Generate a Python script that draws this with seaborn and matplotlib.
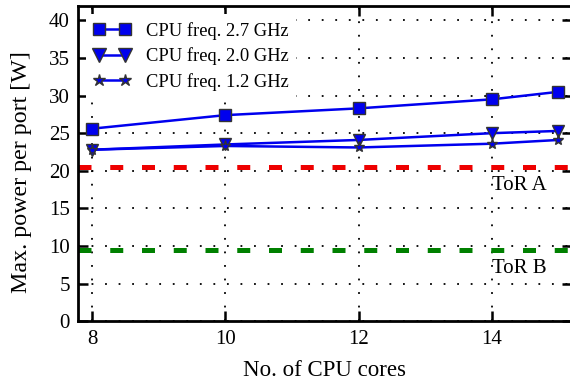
import matplotlib
matplotlib.use("Agg")
import matplotlib.pyplot as plt
import seaborn as sns
import pandas as pd

cores = [8, 10, 12, 14, 15]
p27 = [25.6, 27.4, 28.3, 29.5, 30.5]
p20 = [22.8, 23.5, 24.1, 25.0, 25.3]
p12 = [22.8, 23.3, 23.1, 23.6, 24.1]
series_names = ["CPU freq. 2.7 GHz", "CPU freq. 2.0 GHz", "CPU freq. 1.2 GHz"]
tor_a = 20.5
tor_b = 9.5
x_ticks = [8, 10, 12, 14]
y_ticks = [0, 5, 10, 15, 20, 25, 30, 35, 40]

sns.set_style("ticks", {"axes.edgecolor": "black", "xtick.color": "black",
                        "ytick.color": "black", "text.color": "black",
                        "axes.labelcolor": "black"})
plt.rcParams["font.family"] = ["Liberation Serif", "DejaVu Serif"]

df = pd.DataFrame({
    "cores": cores * 3,
    "power": p27 + p20 + p12,
    "series": [series_names[0]] * 5 + [series_names[1]] * 5 + [series_names[2]] * 5,
})

fig = plt.figure(figsize=(5.7, 3.81), dpi=100)
ax = fig.add_axes([0.137, 0.157, 0.866, 0.827])

markers = {series_names[0]: "s", series_names[1]: "v", series_names[2]: "*"}
msizes = {series_names[0]: 8, series_names[1]: 9, series_names[2]: 8}
for name in series_names:
    sub = df[df["series"] == name]
    sns.lineplot(data=sub, x="cores", y="power", ax=ax, color="#0000ee",
                 marker=markers[name], markersize=msizes[name],
                 markeredgecolor="#333333", markeredgewidth=1.0,
                 linewidth=1.8, label=name, zorder=3)

ax.axhline(tor_a, color="#ee0000", linewidth=3.6, dashes=(2.6, 3.75), zorder=2)
ax.axhline(tor_b, color="#008000", linewidth=3.6, dashes=(2.6, 3.75), zorder=2)
ax.text(14, tor_a - 1.2, "ToR A", fontsize=15, va="top", ha="left")
ax.text(14, tor_b - 1.2, "ToR B", fontsize=15, va="top", ha="left")

ax.set_xlim(7.79, 15.2)
ax.set_ylim(0, 41.9)
ax.set_xticks(x_ticks)
ax.set_yticks(y_ticks)
ax.grid(True, color="black", linestyle=(0, (1, 6.5)), linewidth=1.3, zorder=0)
ax.set_axisbelow(True)
ax.tick_params(direction="in", length=7, width=1.8, labelsize=15,
               top=True, right=True, pad=6, colors="black")
for s in ax.spines.values():
    s.set_linewidth(2)
    s.set_color("black")
ax.set_xlabel("No. of CPU cores", fontsize=16.5, labelpad=8)
ax.set_ylabel("Max. power per port [W]", fontsize=17.3, va="center")
ax.yaxis.set_label_coords(-0.115, 0.473)

leg = ax.legend(loc="upper left", fontsize=13.3, numpoints=2, handlelength=2.0,
                frameon=True, framealpha=1, edgecolor="none", fancybox=False,
                borderaxespad=0.45, labelspacing=0.42, handletextpad=0.8,
                markerscale=1.15)

fig.savefig("out.png", dpi=100)
